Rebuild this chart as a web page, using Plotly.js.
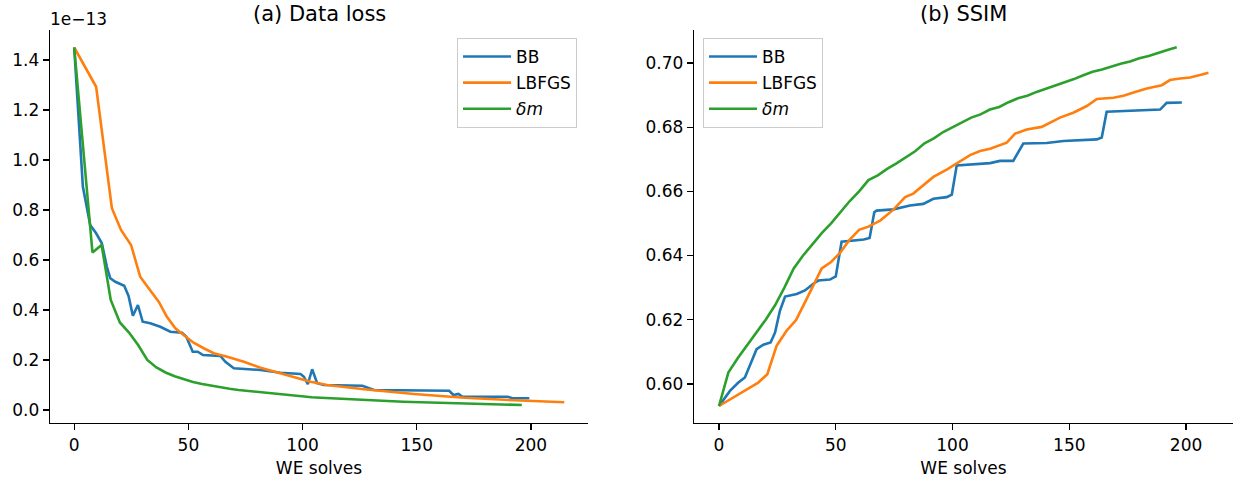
<!DOCTYPE html>
<html>
<head>
<meta charset="utf-8">
<script src="https://cdn.plot.ly/plotly-3.0.1.min.js"></script>
<style>html,body{margin:0;padding:0;background:#fff;}#chart{width:1237px;height:482px;}</style>
</head>
<body>
<div id="chart"></div>
<script>
// ---- Data ----
// (a) Data loss, in units of 1e-13
const bbLossX = [0, 3.8, 7, 9.6, 12.1, 14.3, 15.8, 18, 21.9, 23.8, 25.7, 27.9, 30, 33.3, 37.7, 42.1, 47.2, 49.1, 51.9, 54.1, 56.4, 64, 66.2, 69.9, 81.6, 90.4, 99.1, 100.6, 102.3, 104.2, 106.4, 109.3, 126.2, 131.3, 164.2, 166.1, 168.3, 170, 189.8, 192, 199.3];
const bbLossY = [1.45, 0.893, 0.74, 0.707, 0.667, 0.573, 0.527, 0.513, 0.497, 0.456, 0.377, 0.42, 0.353, 0.347, 0.333, 0.313, 0.309, 0.293, 0.233, 0.233, 0.22, 0.216, 0.193, 0.167, 0.16, 0.149, 0.144, 0.133, 0.103, 0.163, 0.107, 0.1, 0.097, 0.08, 0.077, 0.06, 0.064, 0.053, 0.053, 0.047, 0.047];

const lbLossX = [0, 9.6, 16.5, 20.5, 24.9, 28.9, 32.6, 37, 40.6, 44.3, 47.9, 52.3, 56.7, 61.1, 67, 74.3, 81.6, 88.9, 96.2, 103.5, 110.8, 126.9, 148.8, 170.8, 192.7, 214.6];
const lbLossY = [1.45, 1.293, 0.807, 0.72, 0.66, 0.533, 0.487, 0.433, 0.373, 0.327, 0.3, 0.269, 0.247, 0.227, 0.213, 0.193, 0.169, 0.151, 0.131, 0.113, 0.1, 0.083, 0.064, 0.049, 0.039, 0.031];

const dmX = [0, 4, 8, 12, 16, 20, 24, 28, 32, 36, 40, 44, 48, 52, 56, 60, 64, 68, 72, 76, 80, 84, 88, 92, 96, 100, 104, 108, 112, 116, 120, 124, 128, 132, 136, 140, 144, 148, 152, 156, 160, 164, 168, 172, 176, 180, 184, 188, 192, 196];
const dmLossY = [1.45, 1.04, 0.63, 0.66, 0.44, 0.35, 0.31, 0.26, 0.20, 0.17, 0.15, 0.135, 0.122, 0.112, 0.104, 0.097, 0.09, 0.085, 0.08, 0.076, 0.072, 0.068, 0.064, 0.06, 0.057, 0.054, 0.051, 0.049, 0.047, 0.045, 0.043, 0.041, 0.039, 0.037, 0.036, 0.034, 0.033, 0.032, 0.031, 0.03, 0.029, 0.028, 0.027, 0.026, 0.025, 0.024, 0.023, 0.022, 0.021, 0.02];

// (b) SSIM
const bbSsimX = [0, 4.7, 8.3, 11.1, 16.1, 19, 22.1, 24, 26.1, 28.3, 33.3, 36.8, 40.4, 42.5, 47.5, 50, 52.5, 58, 62, 64.5, 66.5, 67.5, 74.7, 81.8, 87.5, 91.8, 97.5, 99.7, 101.8, 116.1, 120.3, 126, 128.2, 130.3, 140.3, 147.5, 161.8, 163.9, 166, 177.4, 188.9, 191.7, 198.2];
const bbSsimY = [0.5931, 0.5978, 0.6004, 0.602, 0.6108, 0.6122, 0.6129, 0.616, 0.6228, 0.6272, 0.628, 0.6291, 0.6312, 0.6322, 0.6325, 0.6335, 0.6443, 0.6447, 0.645, 0.6455, 0.6535, 0.654, 0.6544, 0.6556, 0.6561, 0.6577, 0.6582, 0.659, 0.6681, 0.6688, 0.6695, 0.6695, 0.6723, 0.6749, 0.6751, 0.6757, 0.6762, 0.6768, 0.6848, 0.6851, 0.6855, 0.6876, 0.6877];

const lbSsimX = [0, 4.7, 11.1, 16.8, 20.7, 24.7, 29, 33, 36.8, 41.1, 44, 48, 52, 56, 60, 64, 69, 74.7, 79.7, 83.2, 91.8, 97.5, 101.8, 107.5, 111.8, 116.1, 123.2, 126.8, 131.8, 138.2, 146, 151.7, 157.5, 161.8, 168.9, 173.2, 178.2, 183.2, 189.6, 193.1, 197.4, 201.7, 206, 209.6];
const lbSsimY = [0.5931, 0.5952, 0.5978, 0.6004, 0.603, 0.6119, 0.6166, 0.6199, 0.6254, 0.6317, 0.636, 0.638, 0.641, 0.645, 0.648, 0.649, 0.6509, 0.6543, 0.6582, 0.6593, 0.6645, 0.6668, 0.6687, 0.6713, 0.6726, 0.6733, 0.6752, 0.678, 0.6793, 0.6801, 0.683, 0.6845, 0.6866, 0.6888, 0.6892, 0.6898, 0.691, 0.6921, 0.6931, 0.6947, 0.6952, 0.6955, 0.6963, 0.697];

const dmSsimY = [0.5931, 0.6035, 0.608, 0.612, 0.616, 0.620, 0.6245, 0.630, 0.636, 0.640, 0.6435, 0.647, 0.650, 0.6535, 0.657, 0.660, 0.6635, 0.665, 0.667, 0.6687, 0.6705, 0.6725, 0.675, 0.6765, 0.6785, 0.680, 0.6815, 0.683, 0.684, 0.6855, 0.6863, 0.6878, 0.689, 0.6898, 0.691, 0.692, 0.6928, 0.694, 0.695, 0.6962, 0.6973, 0.698, 0.699, 0.6998, 0.7005, 0.7015, 0.7022, 0.7032, 0.7041, 0.7049];

const seriesNames = ['BB', 'LBFGS', '<i>δm</i>'];
const xTicks = [0, 50, 100, 150, 200];
const lossTicks = [0.0, 0.2, 0.4, 0.6, 0.8, 1.0, 1.2, 1.4];
const ssimTicks = [0.60, 0.62, 0.64, 0.66, 0.68, 0.70];
const panelTitles = ['(a) Data loss', '(b) SSIM'];
const xTitle = 'WE solves';
const offsetText = '1e\u221213';

// ---- Styling ----
const colors = ['#1f77b4', '#ff7f0e', '#2ca02c'];
const W = 1237, H = 482;
const FONT = 'DejaVu Sans, sans-serif';
const px = v => v / W;
const py = v => (H - v) / H;

function tr(x, y, i, xa, ya, leg) {
  return {
    x: x, y: y, type: 'scatter', mode: 'lines', name: seriesNames[i],
    xaxis: xa, yaxis: ya, legend: leg, legendgroup: leg + '_' + i,
    line: {color: colors[i], width: 2.6},
    hoverinfo: 'x+y'
  };
}

const data = [
  tr(bbLossX, bbLossY, 0, 'x', 'y', 'legend'),
  tr(lbLossX, lbLossY, 1, 'x', 'y', 'legend'),
  tr(dmX, dmLossY, 2, 'x', 'y', 'legend'),
  tr(bbSsimX, bbSsimY, 0, 'x2', 'y2', 'legend2'),
  tr(lbSsimX, lbSsimY, 1, 'x2', 'y2', 'legend2'),
  tr(dmX, dmSsimY, 2, 'x2', 'y2', 'legend2')
];

const axCommon = {
  showline: true, linecolor: '#000', linewidth: 1.3, mirror: false,
  ticks: 'outside', ticklen: 6, tickwidth: 1.3, tickcolor: '#000',
  showgrid: false, zeroline: false,
  tickfont: {family: FONT, size: 17, color: '#000'}
};

const legCommon = {
  xanchor: 'left', yanchor: 'top',
  bgcolor: 'rgba(255,255,255,0.8)', bordercolor: '#cccccc', borderwidth: 1,
  itemwidth: 48, tracegroupgap: 1,
  font: {family: FONT, size: 17, color: '#000'}
};

const layout = {
  width: W, height: H,
  margin: {l: 0, r: 0, t: 0, b: 0},
  paper_bgcolor: '#fff', plot_bgcolor: '#fff',
  font: {family: FONT, size: 17, color: '#000'},
  xaxis: Object.assign({}, axCommon, {
    domain: [px(50), px(588)], range: [-10.6, 225], anchor: 'y',
    tickvals: xTicks,
    title: {text: xTitle, font: {family: FONT, size: 17, color: '#000'}, standoff: 8}
  }),
  yaxis: Object.assign({}, axCommon, {
    domain: [py(423), py(30)], range: [-0.052, 1.52], anchor: 'x',
    tickvals: lossTicks, tickformat: '.1f'
  }),
  xaxis2: Object.assign({}, axCommon, {
    domain: [px(694), px(1233)], range: [-10.7, 220.1], anchor: 'y2',
    tickvals: xTicks,
    title: {text: xTitle, font: {family: FONT, size: 17, color: '#000'}, standoff: 8}
  }),
  yaxis2: Object.assign({}, axCommon, {
    domain: [py(423), py(30)], range: [0.5878, 0.7103], anchor: 'x2',
    tickvals: ssimTicks, tickformat: '.2f'
  }),
  legend: Object.assign({}, legCommon, {x: px(457), y: py(38)}),
  legend2: Object.assign({}, legCommon, {x: px(703), y: py(38)}),
  annotations: [
    {text: panelTitles[0], xref: 'paper', yref: 'paper', x: px(319), y: py(14), xanchor: 'center', yanchor: 'middle', showarrow: false, font: {family: FONT, size: 21, color: '#000'}},
    {text: panelTitles[1], xref: 'paper', yref: 'paper', x: px(963), y: py(14), xanchor: 'center', yanchor: 'middle', showarrow: false, font: {family: FONT, size: 21, color: '#000'}},
    {text: offsetText, xref: 'paper', yref: 'paper', x: px(48), y: py(19), xanchor: 'left', yanchor: 'middle', showarrow: false, font: {family: FONT, size: 17, color: '#000'}}
  ]
};

Plotly.newPlot('chart', data, layout, {displayModeBar: false, staticPlot: true});
</script>
</body>
</html>
